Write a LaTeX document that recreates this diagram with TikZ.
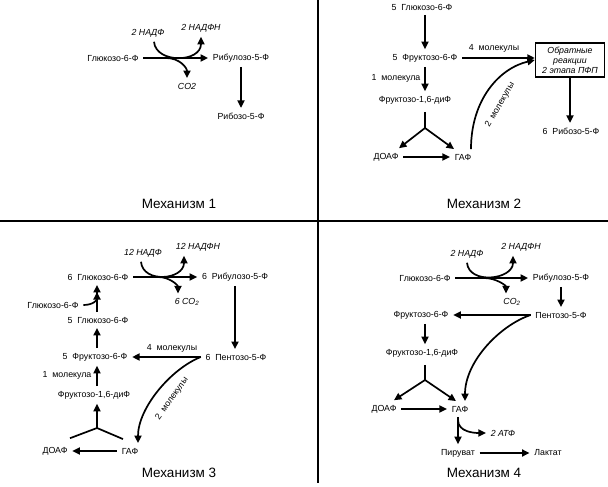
\documentclass[tikz,border=0pt]{standalone}
\usepackage{fontspec}
\setmainfont{Liberation Sans}
\usetikzlibrary{arrows.meta}
\newcommand{\stofffont}{\fontsize{8.8}{10}\selectfont}
\tikzset{
    %Define standard arrow tip
    >={Triangle[length=7.5pt,width=7pt]},
    %Define style for metabolites
    stoff/.style={
           inner sep=4pt,
           font=\stofffont},
    kofaktor/.style={
           inner sep=4pt,
           font=\stofffont\itshape},
    tittel/.style={
           font=\fontsize{13.5}{16}\selectfont},
    boks/.style={
           rectangle,
           draw=black, line width=1.3pt,
           minimum width=69pt,
           minimum height=34pt,
           inner sep=2pt,
           align=center,
           font=\stofffont\itshape},
    % Define line styles
    strek/.style={-},
    rand/.style={-, line width=1.8pt}
}
\begin{document}
\begin{tikzpicture}[->, line width=1.7pt, x=1pt, y=-1pt]
\useasboundingbox (0,0) rectangle (608,487);
\draw[rand] (0,221) -- (608,221);
\draw[rand] (318,0) -- (318,483);
 %mechanism 1
\node[kofaktor] (nadp1) at (148,33) {2 НАДФ};
\node[kofaktor] (nadph1) at (201,28) {2 НАДФН};
\node[stoff] (glu1) at (113,58) {Глюкозо-6-Ф};
\node[stoff] (rib1) at (241,58) {Рибулозо-5-Ф};
\node[kofaktor] (co1) at (187,86) {CO2};
\node[stoff] (ribo1) at (241,116) {Рибозо-5-Ф};
\node[tittel] (t1) at (179,204) {Механизм 1};
\coordinate (k1) at (166,58);
\path (glu1) edge (rib1)
      (rib1) edge (ribo1);
\draw ([xshift=6pt]nadp1.south) .. controls +(2,22) and +(0,26) .. (nadph1.south);
\draw (k1) .. controls +(14,0) and +(0,-10) .. (co1.north);
 %mechanism 2
\node[stoff] (glu2) at (422,7) {5~~Глюкозо-6-Ф};
\node[stoff] (fru2) at (425,58) {5~~Фруктозо-6-Ф};
\node[stoff] (fd2) at (415,100) {Фруктозо-1,6-диФ};
\node[stoff] (doaf2) at (386,157) {ДОАФ};
\node[stoff] (gaf2) at (463,157) {ГАФ};
\node[boks] (box2) at (570,60) {Обратные\\реакции\\2 этапа ПФП};
\node[stoff] (ribo2) at (571,131) {6~~Рибозо-5-Ф};
\node[stoff] (m4a) at (494,48) {4~~молекулы};
\node[stoff] (m1a) at (396,78) {1~~молекула};
\node[stoff, inner sep=1pt, rotate=60] (m2a) at (500,105) {2~~молекулы};
\node[tittel] (t2) at (484,204) {Механизм 2};
\coordinate (v2) at (425,128);
\draw (glu2.south -| fru2) -- (fru2);
\draw (fru2) -- (fru2 -| box2.west);
\draw (fru2) -- (fru2 |- fd2.north);
\draw[strek, shorten <=3pt] (fd2.south -| v2) -- (v2);
\path (v2) edge ([xshift=13pt]doaf2.north)
           edge ([xshift=-9pt]gaf2.north);
\draw (doaf2) -- (gaf2);
\draw ([xshift=8pt]gaf2.north) .. controls +(0,-50) and +(-35,8) .. (box2.west);
\draw (box2) -- (box2 |- ribo2.north);
 %mechanism 3
\node[kofaktor] (nadp3) at (143,253) {12 НАДФ};
\node[kofaktor] (nadph3) at (198,247) {12 НАДФН};
\node[stoff] (glu3) at (98,277) {6~~Глюкозо-6-Ф};
\node[stoff] (rib3) at (235,277) {6~~Рибулозо-5-Ф};
\node[kofaktor] (co3) at (187,302) {6 CO\textsubscript{2}};
\node[stoff] (pen3) at (236,357) {6~~Пентозо-5-Ф};
\node[stoff] (fru3) at (95,357) {5~~Фруктозо-6-Ф};
\node[stoff] (glu3b) at (98,320) {5~~Глюкозо-6-Ф};
\node[stoff] (glu3c) at (53,305) {Глюкозо-6-Ф};
\node[stoff] (fd3) at (94,395) {Фруктозо-1,6-диФ};
\node[stoff] (doaf3) at (55,451) {ДОАФ};
\node[stoff] (gaf3) at (130,451) {ГАФ};
\node[stoff] (m4b) at (172,348) {4~~молекулы};
\node[stoff] (m1b) at (67,375) {1~~молекула};
\node[stoff, inner sep=1pt, rotate=55] (m2b) at (172,399) {2~~молекулы};
\node[tittel] (t3) at (179,473) {Механизм 3};
\coordinate (v3) at (97,428);
\coordinate (k3) at (158,277);
\coordinate (s3) at (97,292);
\draw (glu3) -- (rib3);
\draw ([xshift=-2pt]nadp3.south) .. controls +(2,22) and +(0,24) .. ([xshift=-14pt]nadph3.south);
\draw (k3) .. controls +(12,0) and +(0,-8) .. ([xshift=-9pt]co3.north);
\draw (rib3) -- (rib3 |- pen3.north);
\draw (pen3) -- (fru3);
\draw (pen3.west) .. controls +(-30,12) and +(0,-35) .. ([xshift=8pt]gaf3.north);
\draw (gaf3) -- (doaf3);
\draw[strek] ([xshift=15pt,yshift=4pt]doaf3.north) -- (v3) -- ([xshift=-7pt,yshift=4pt]gaf3.north);
\draw (v3) -- (fd3.south -| v3);
\draw (fd3.north -| v3) -- (fru3.south -| v3);
\draw (fru3.north -| v3) -- (glu3b.south -| v3);
\draw (glu3b.north -| v3) -- (glu3.south -| v3);
\draw (glu3c.east) .. controls +(10,0) and +(0,8) .. (s3);
 %mechanism 4
\node[kofaktor] (nadp4) at (467,254) {2 НАДФ};
\node[kofaktor] (nadph4) at (521,247) {2 НАДФН};
\node[stoff] (glu4) at (425,278) {Глюкозо-6-Ф};
\node[stoff] (rib4) at (561,278) {Рибулозо-5-Ф};
\node[kofaktor] (co4) at (512,302) {CO\textsubscript{2}};
\node[stoff] (pen4) at (561,315) {Пентозо-5-Ф};
\node[stoff] (fru4) at (421,315) {Фруктозо-6-Ф};
\node[stoff] (fd4) at (422,353) {Фруктозо-1,6-диФ};
\node[stoff] (doaf4) at (384,409) {ДОАФ};
\node[stoff] (gaf4) at (460,409) {ГАФ};
\node[kofaktor] (atf4) at (503,433) {2 АТФ};
\node[stoff] (pir4) at (458,453) {Пируват};
\node[stoff] (lak4) at (548,453) {Лактат};
\node[tittel] (t4) at (484,473) {Механизм 4};
\coordinate (v4) at (425,380);
\coordinate (k4) at (484,278);
\draw (glu4) -- (rib4);
\draw (nadp4.south) .. controls +(2,22) and +(0,24) .. ([xshift=-8pt]nadph4.south);
\draw (k4) .. controls +(12,0) and +(0,-8) .. ([xshift=-6pt]co4.north);
\draw (rib4) -- (pen4);
\draw (pen4) -- (fru4);
\draw (fru4.south -| v4) -- (fd4.north -| v4);
\draw[strek, shorten <=3pt] (fd4.south -| v4) -- (v4);
\path (v4) edge ([xshift=10pt]doaf4.north)
           edge ([xshift=-4pt]gaf4.north);
\draw (doaf4) -- (gaf4);
\draw (pen4.west) .. controls +(-30,10) and +(0,-40) .. ([xshift=5pt]gaf4.north);
\draw ([xshift=-2pt]gaf4.south) -- ([xshift=-2pt]gaf4.south |- pir4.north);
\draw ([xshift=-2pt,yshift=-3pt]gaf4.south) .. controls +(0,12) and +(-12,0) .. (atf4.west);
\draw (pir4) -- (lak4);
\end{tikzpicture}
\end{document}
